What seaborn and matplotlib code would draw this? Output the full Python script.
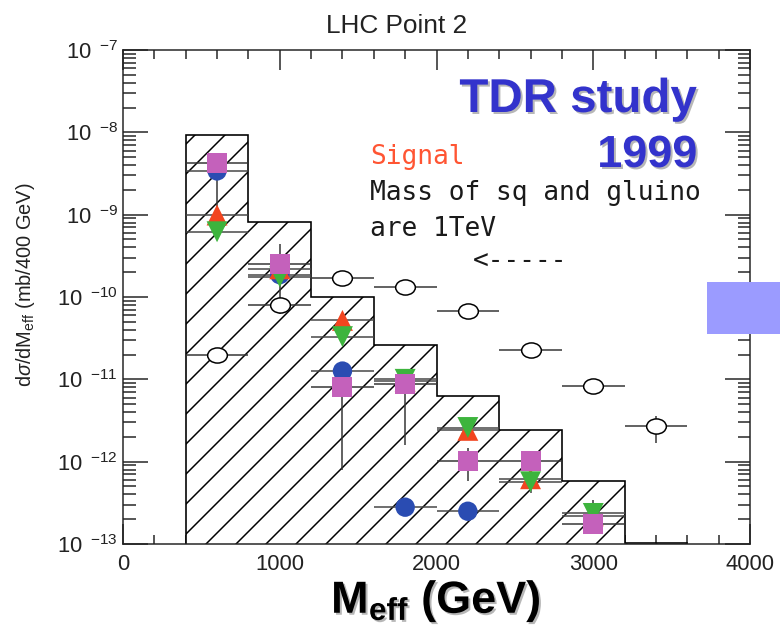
import numpy as np
import pandas as pd
import matplotlib
matplotlib.use("Agg")
import matplotlib.pyplot as plt
import matplotlib.patheffects as pe
from matplotlib.patches import Rectangle
from matplotlib.path import Path
from matplotlib.ticker import FixedLocator, LogLocator, NullFormatter, FuncFormatter
import seaborn as sns

# ---- data -------------------------------------------------------------
# Standard-model background (hatched histogram), 400 GeV bins
bin_edges = [400, 800, 1200, 1600, 2000, 2400, 2800, 3200, 3600]
background = [9.4e-9, 8.1e-10, 1.0e-10, 2.6e-11, 6.3e-12, 2.4e-12, 5.9e-13, 1.03e-13]

# Open markers (reference distribution)
open_x = [600, 1000, 1400, 1800, 2200, 2600, 3000, 3400]
open_y = [2.0e-11, 8.1e-11, 1.7e-10, 1.34e-10, 6.7e-11, 2.25e-11, 8.3e-12, 2.7e-12]
open_lo = [2.0e-11, 8.1e-11, 1.7e-10, 1.34e-10, 6.7e-11, 2.25e-11, 8.3e-12, 1.7e-12]
open_hi = [2.0e-11, 8.1e-11, 1.7e-10, 1.34e-10, 6.7e-11, 2.25e-11, 8.3e-12, 3.6e-12]

# Signal samples
blue_x = [600, 1000, 1400, 1800, 2200]
blue_y = [3.4e-9, 1.87e-10, 1.26e-11, 2.8e-13, 2.5e-13]

red_x = [600, 1000, 1400, 1800, 2200, 2600, 3000]
red_y = [9.9e-10, 2.2e-10, 5.2e-11, 9.5e-12, 2.4e-12, 6.2e-13, 2.2e-13]

green_x = [600, 1000, 1400, 1800, 2200, 2600, 3000]
green_y = [6.2e-10, 1.76e-10, 3.3e-11, 1.0e-11, 2.6e-12, 5.7e-13, 2.35e-13]
green_lo = [6.2e-10, 1.76e-10, 3.3e-11, 1.0e-11, 2.6e-12, 4.2e-13, 2.35e-13]
green_hi = [6.2e-10, 1.76e-10, 3.3e-11, 1.0e-11, 2.6e-12, 5.7e-13, 2.35e-13]

magenta_x = [600, 1000, 1400, 1800, 2200, 2600, 3000]
magenta_y = [4.3e-9, 2.5e-10, 8.1e-12, 8.7e-12, 1.03e-12, 1.03e-12, 1.73e-13]
magenta_lo = [1.24e-9, 6.3e-11, 8.0e-13, 1.6e-12, 5.9e-13, 1.03e-12, 1.73e-13]
magenta_hi = [5.4e-9, 4.4e-10, 8.1e-12, 1.19e-11, 1.48e-12, 1.03e-12, 3.4e-13]

half_bin = 200
x_ticks = [0, 1000, 2000, 3000, 4000]

# ---- style ------------------------------------------------------------
sns.set_theme(style="ticks")
plt.rcParams.update({
    "font.family": ["Liberation Sans", "DejaVu Sans"],
    "mathtext.fontset": "custom",
    "mathtext.rm": "Liberation Sans",
    "mathtext.it": "Liberation Sans:italic",
    "mathtext.bf": "Liberation Sans:bold",
    "hatch.linewidth": 0.6,
    "axes.linewidth": 0.6,
    "axes.edgecolor": "#222222",
})

DPI = 180
W, H = 780, 630
fig = plt.figure(figsize=(W / DPI, H / DPI), dpi=DPI, facecolor="white")


def fx(px):
    return px / W


def fy(py):
    return 1 - py / H


ax_left, ax_right, ax_top, ax_bottom = 123, 750, 50, 544
ax = fig.add_axes([fx(ax_left), fy(ax_bottom), (ax_right - ax_left) / W,
                   (ax_bottom - ax_top) / H])
ax.set_facecolor("white")
ax.set_yscale("log")
ax.set_xlim(0, 4000)
ax.set_ylim(1e-13, 1e-7)

# ---- background histogram --------------------------------------------
ax.stairs(background, bin_edges, baseline=1e-15, fill=True,
          facecolor="white", edgecolor="black", hatch="//", linewidth=0.65,
          zorder=1)

# ---- error bars -------------------------------------------------------
def bars(x, y, lo=None, hi=None, color="#444444"):
    y = np.asarray(y)
    yerr = None
    if lo is not None:
        yerr = [y - np.asarray(lo), np.asarray(hi) - y]
    ax.errorbar(x, y, xerr=half_bin, yerr=yerr, fmt="none", ecolor=color,
                elinewidth=0.6, capsize=0, zorder=2)


bars(blue_x, blue_y)
bars(red_x, red_y)
bars(green_x, green_y, green_lo, green_hi)
bars(magenta_x, magenta_y, magenta_lo, magenta_hi, color="#333333")
bars(open_x, open_y, open_lo, open_hi, color="#333333")

# ---- markers ------------------------------------------------------------
signal = pd.concat([
    pd.DataFrame({"m": blue_x, "v": blue_y, "set": "blue"}),
    pd.DataFrame({"m": red_x, "v": red_y, "set": "red"}),
    pd.DataFrame({"m": green_x, "v": green_y, "set": "green"}),
    pd.DataFrame({"m": magenta_x, "v": magenta_y, "set": "magenta"}),
], ignore_index=True)

palette = {"blue": "#2a4cb2", "red": "#f2451f", "green": "#3db43d",
           "magenta": "#c461bb"}
markers = {"blue": "o", "red": "^", "green": "v", "magenta": "s"}
sizes = {"blue": 60, "red": 70, "green": 70, "magenta": 64}

sns.scatterplot(data=signal, x="m", y="v", hue="set", style="set",
                size="set", palette=palette, markers=markers, sizes=sizes,
                linewidth=0, legend=False, ax=ax, zorder=3)

# slightly wide open ellipse marker
circ = Path.unit_circle()
ellipse = Path(circ.vertices * np.array([1.3, 1.0]), circ.codes)
open_df = pd.DataFrame({"m": open_x, "v": open_y})
sns.scatterplot(data=open_df, x="m", y="v", marker=ellipse, s=62,
                facecolor="white", edgecolor="black", linewidth=0.6,
                legend=False, ax=ax, zorder=3)

# ---- axes -------------------------------------------------------------
ax.xaxis.set_major_locator(FixedLocator(x_ticks))
ax.xaxis.set_minor_locator(FixedLocator(np.arange(0, 4001, 200)))
ax.yaxis.set_major_locator(LogLocator(base=10, numticks=20))
ax.yaxis.set_minor_locator(LogLocator(base=10, subs=np.arange(2, 10), numticks=20))
ax.yaxis.set_minor_formatter(NullFormatter())


def log_label(v, pos):
    e = int(round(np.log10(v)))
    return r"$\mathregular{10}^{\ \ \mathregular{%d}}$" % e


ax.yaxis.set_major_formatter(FuncFormatter(log_label))
ax.xaxis.set_major_formatter(FuncFormatter(lambda v, p: f"{int(v)}"))

ax.tick_params(which="both", direction="in", top=True, right=True,
               color="#222222", width=0.6, labelcolor="#222222",
               labelsize=8.8)
ax.tick_params(axis="x", which="major", length=8, pad=4)
ax.tick_params(axis="x", which="minor", length=3.6)
ax.tick_params(axis="y", which="major", length=10, pad=2)
ax.tick_params(axis="y", which="minor", length=5)
ax.set_xlabel(None)
ax.set_ylabel(None)
for s in ax.spines.values():
    s.set_visible(True)

# ---- text ---------------------------------------------------------------
fig.text(fx(397), fy(33), "LHC Point 2", ha="center", va="baseline",
         fontsize=10.5, color="#222222")

fig.text(fx(26), fy(285), r"d$\sigma$/dM$_{\mathregular{eff}}$ (mb/400 GeV)",
         rotation=90, ha="center", va="center", fontsize=8, color="#222222")

shadow = [pe.withSimplePatchShadow(offset=(0.8, -0.8), shadow_rgbFace="#888888",
                                   alpha=0.6)]
fig.text(fx(436), fy(613), r"M$_{\mathregular{eff}}$ (GeV)", ha="center",
         va="baseline", fontsize=18, fontweight="bold", color="black",
         path_effects=shadow)

fig.text(fx(697), fy(112), "TDR study", ha="right", va="baseline",
         fontsize=19, fontweight="bold", color="#3333cc", path_effects=shadow)
fig.text(fx(697), fy(167), "1999", ha="right", va="baseline",
         fontsize=18, fontweight="bold", color="#3333cc", path_effects=shadow)

mono = ["DejaVu Sans Mono"]
fig.text(fx(370), fy(164), "Signal", ha="left", va="baseline",
         fontsize=10.5, family=mono, color="#ff5533")
fig.text(fx(370), fy(200), "Mass of sq and gluino", ha="left", va="baseline",
         fontsize=10.5, family=mono, color="#1a1a1a")
fig.text(fx(370), fy(236), "are 1TeV", ha="left", va="baseline",
         fontsize=10.5, family=mono, color="#1a1a1a")
fig.text(fx(473), fy(262), "<-----", ha="left", va="center",
         fontsize=10.5, family=mono, color="#1a1a1a")

# ---- side marker block --------------------------------------------------
fig.add_artist(Rectangle((fx(707), fy(334)), fx(780) - fx(707),
                         fy(282) - fy(334), transform=fig.transFigure,
                         facecolor="#9b9bff", edgecolor="none", zorder=5))

fig.savefig("out.png", dpi=DPI, facecolor="white")
